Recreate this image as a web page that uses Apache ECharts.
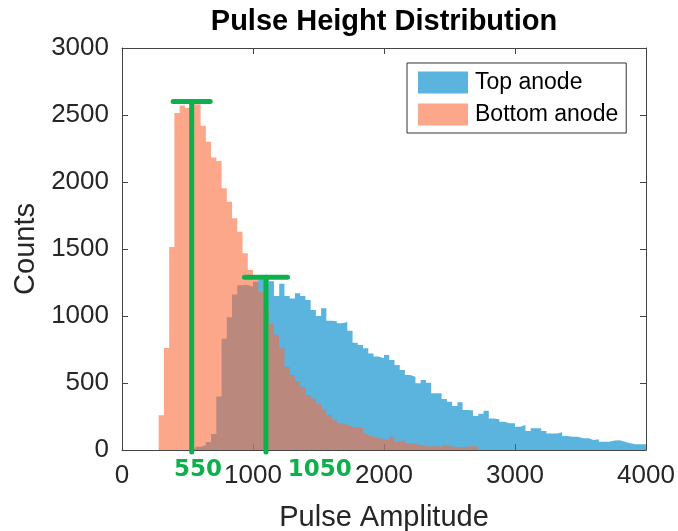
<!DOCTYPE html>
<html><head><meta charset="utf-8">
<script src="https://cdn.jsdelivr.net/npm/echarts@6/dist/echarts.min.js"></script>
<style>html,body{margin:0;padding:0;background:#fff}#c{width:678px;height:531px}</style>
</head><body><div id="c"></div>
<script>
// ---- data ----
const binWidth = 40;
const topName = 'Top anode';
const topStart = 520;
const topCounts = [
  10, 25, 35, 60, 120, 400, 830, 990, 1160, 1230,
  1231, 1219, 1256, 1275, 1280, 1260, 1150, 1240, 1150, 1130,
  1169, 1150, 1120, 1045, 1000, 1057, 965, 960, 945, 955,
  890, 800, 784, 760, 720, 697, 684, 709, 672, 634,
  597, 560, 547, 498, 522, 502, 423, 423, 380, 361,
  328, 356, 299, 294, 254, 270, 292, 235, 229, 211,
  199, 199, 174, 187, 142, 162, 162, 142, 124, 124,
  132, 104, 99, 99, 87, 87, 75, 80, 62, 62,
  70, 72, 62, 50, 42, 42, 42
];
const bottomName = 'Bottom anode';
const bottomStart = 280;
const bottomCounts = [
  260, 761, 1515, 2515, 2570, 2552, 2580, 2580, 2420, 2300,
  2182, 2157, 1953, 1853, 1729, 1629, 1468, 1343, 1275, 1180,
  1060, 940, 860, 760, 620, 560, 515, 470, 410, 385,
  345, 300, 262, 225, 200, 187, 174, 170, 162, 120,
  105, 90, 80, 80, 99, 62, 75, 50, 44, 37,
  32, 25, 32, 20, 35, 25, 25, 22, 25, 30, 25
];
const xMin = 0, xMax = 4000, xStep = 1000;
const yMin = 0, yMax = 3000, yStep = 500;
// green annotation markers
const markerX = [532, 1099];
const markerTop = [2600, 1290];
const markerLabels = ['550', '1050'];
const markerLabelX = [580, 1510];

// ---- styles ----
const capHalf = [18.5, 21.5];
const green = '#0DB04B';
const axisColor = '#444';
const textColor = '#262626';
const font = 'Liberation Sans';

function steps(start, counts) {
  const pts = counts.map((c, i) => [start + i * binWidth, c]);
  pts.push([start + counts.length * binWidth, 0]);
  return pts;
}
const plain = v => String(v);

const axisCommon = {
  type: 'value',
  axisLine: { show: true, onZero: false, lineStyle: { color: axisColor, width: 1 } },
  axisTick: { show: true, inside: true, length: 6, lineStyle: { color: axisColor, width: 1 } },
  splitLine: { show: false }
};

const chart = echarts.init(document.getElementById('c'), null, { renderer: 'canvas' });
chart.setOption({
  animation: false,
  backgroundColor: '#fff',
  title: {
    text: 'Pulse Height Distribution',
    left: 384, top: 7, padding: 0, textAlign: 'center',
    textStyle: { fontFamily: font, fontSize: 29, fontWeight: 'bold', color: '#000' }
  },
  legend: {
    data: [topName, bottomName],
    orient: 'vertical', left: 407, top: 63,
    padding: [8, 8, 7, 11],
    itemWidth: 50, itemHeight: 22, itemGap: 9,
    icon: 'rect',
    backgroundColor: '#fff', borderColor: '#333', borderWidth: 1,
    itemStyle: { borderWidth: 0 },
    textStyle: { fontFamily: font, fontSize: 23, color: '#000', lineHeight: 22, padding: [0, 0, 0, 2] },
    selectedMode: false
  },
  grid: { left: 122, right: 32, top: 48, bottom: 81, containLabel: false, outerBoundsMode: 'none' },
  xAxis: [
    Object.assign({}, axisCommon, {
      position: 'bottom', min: xMin, max: xMax, interval: xStep,
      axisLabel: { fontFamily: font, fontSize: 26, color: textColor, margin: 13, showMinLabel: true, showMaxLabel: true, formatter: plain },
      name: 'Pulse Amplitude', nameLocation: 'middle', nameGap: 53,
      nameTextStyle: { fontFamily: font, fontSize: 29, color: textColor }
    }),
    Object.assign({}, axisCommon, {
      position: 'top', min: xMin, max: xMax, interval: xStep,
      axisLabel: { show: false }
    })
  ],
  yAxis: [
    Object.assign({}, axisCommon, {
      position: 'left', min: yMin, max: yMax, interval: yStep,
      axisLabel: { fontFamily: font, fontSize: 26, color: textColor, margin: 13, showMinLabel: true, showMaxLabel: true, formatter: plain },
      name: 'Counts', nameLocation: 'middle', nameGap: 59,
      nameTextStyle: { fontFamily: font, fontSize: 29, color: textColor }
    }),
    Object.assign({}, axisCommon, {
      position: 'right', min: yMin, max: yMax, interval: yStep,
      axisLabel: { show: false }
    })
  ],
  series: [
    {
      name: topName, type: 'line', step: 'end', xAxisIndex: 0, yAxisIndex: 0,
      data: steps(topStart, topCounts),
      showSymbol: false, symbol: 'none',
      color: 'rgba(1,140,205,0.65)',
      lineStyle: { width: 0, opacity: 0 },
      areaStyle: { color: 'rgba(1,140,205,0.65)', opacity: 1 },
      z: 2
    },
    {
      name: bottomName, type: 'line', step: 'end', xAxisIndex: 0, yAxisIndex: 0,
      data: steps(bottomStart, bottomCounts),
      showSymbol: false, symbol: 'none',
      color: 'rgba(250,107,60,0.6)',
      lineStyle: { width: 0, opacity: 0 },
      areaStyle: { color: 'rgba(250,107,60,0.6)', opacity: 1 },
      z: 3
    },
    {
      name: 'markers', type: 'custom', xAxisIndex: 0, yAxisIndex: 0, clip: false, z: 10,
      data: markerX.map((x, i) => [x, markerTop[i], markerLabelX[i], i]),
      renderItem: function (params, api) {
        const i = api.value(3);
        const base = api.coord([api.value(0), 0]);
        const top = api.coord([api.value(0), api.value(1)]);
        const lab = api.coord([api.value(2), 0]);
        const h = capHalf[i];
        return {
          type: 'group',
          children: [
            { type: 'line', shape: { x1: base[0], y1: base[1] + 2, x2: top[0], y2: top[1] },
              style: { stroke: green, lineWidth: 5, lineCap: 'round' } },
            { type: 'line', shape: { x1: top[0] - h, y1: top[1], x2: top[0] + h, y2: top[1] },
              style: { stroke: green, lineWidth: 5, lineCap: 'round' } },
            { type: 'text', x: lab[0], y: lab[1] + 20,
              style: { text: markerLabels[i], fill: green, font: 'bold 23px "DejaVu Sans"', align: 'center', verticalAlign: 'middle' } }
          ]
        };
      }
    }
  ]
});
</script>
</body></html>
